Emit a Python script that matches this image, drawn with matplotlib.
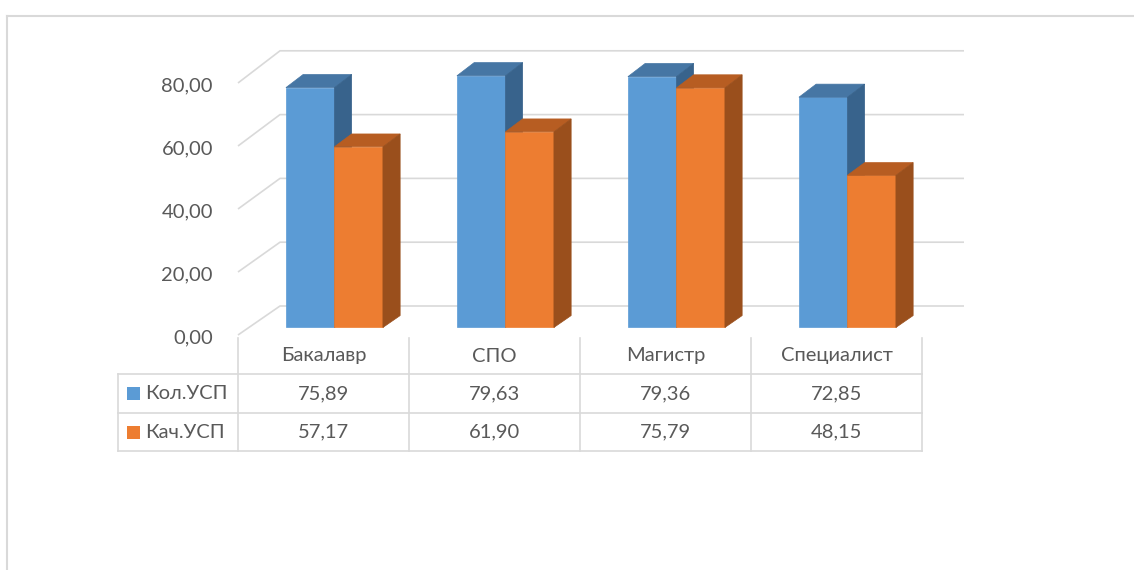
import numpy as np
import matplotlib
matplotlib.use("Agg")
import matplotlib.pyplot as plt
from matplotlib.patches import Polygon, Rectangle
import matplotlib.transforms as mtransforms

plt.rcParams['font.family'] = ['Lato', 'Open Sans', 'DejaVu Sans']

# data
categories = ['Бакалавр', 'СПО', 'Магистр', 'Специалист']
series_names = ['Кол.УСП', 'Кач.УСП']
kol_usp = [75.89, 79.63, 79.36, 72.85]
kach_usp = [57.17, 61.90, 75.79, 48.15]
y_ticks = [0, 20, 40, 60, 80]

# styles
front_colors = ['#5B9BD5', '#ED7D31']
top_colors = ['#4676A4', '#B75D22']
side_colors = ['#38638C', '#9A4F1C']
grid_color = '#D9D9D9'
text_color = '#595959'
fs = 14.5

W, H = 1134, 570
fig = plt.figure(figsize=(W / 100, H / 100), dpi=100)

# front plane of the 3d box: x in categories, y in values
px_left, px_right = 238, 922
px_zero, px_unit = 335, 3.15
ax = fig.add_axes([px_left / W, 1 - px_zero / H,
                   (px_right - px_left) / W, 80 * px_unit / H])
ax.set_xlim(-0.5, len(categories) - 0.5)
ax.set_ylim(0, 80)
ax.axis('off')

cat_px = (px_right - px_left) / len(categories)
DX = 42 / cat_px          # depth shift in category units
DY = 29 / px_unit         # depth shift in value units
PERSP = 0.0127            # back wall slightly larger


def proj(x, v, d):
    return x + d * DX, v * (1 + PERSP * d) + d * DY


# gridlines: back wall + left side
for v in y_ticks:
    x0, y0 = proj(-0.5, v, 0)
    x1, y1 = proj(-0.5, v, 1)
    x2, y2 = proj(len(categories) - 0.5, v, 1)
    ax.plot([x0, x1, x2], [y0, y1, y2], color=grid_color, lw=1.2,
            clip_on=False, zorder=1, solid_capstyle='butt')
    ax.annotate(f'{v:.2f}'.replace('.', ','), (x0, y0), xytext=(-25, -3),
                textcoords='offset pixels', ha='right', va='center',
                fontsize=fs, color=text_color, annotation_clip=False)

# bars
bar_w = 48.5 / cat_px
d_front, d_back = 0.26, 0.67
for i in range(len(categories)):
    for s, vals in enumerate([kol_usp, kach_usp]):
        xl = i - bar_w + s * bar_w
        xr = xl + bar_w
        v = vals[i]
        front = [proj(xl, 0, d_front), proj(xr, 0, d_front),
                 proj(xr, v, d_front), proj(xl, v, d_front)]
        top = [proj(xl, v, d_front), proj(xr, v, d_front),
               proj(xr, v, d_back), proj(xl, v, d_back)]
        side = [proj(xr, 0, d_front), proj(xr, 0, d_back),
                proj(xr, v, d_back), proj(xr, v, d_front)]
        for pts, c in [(front, front_colors[s]), (top, top_colors[s]),
                       (side, side_colors[s])]:
            ax.add_patch(Polygon(pts, closed=True, facecolor=c,
                                 edgecolor=c, lw=0.5, clip_on=False,
                                 zorder=3))

# data table
bt = mtransforms.blended_transform_factory(ax.transData, fig.transFigure)
row_px = [338, 374, 413, 451]
legend_left = 118


def fy(py):
    return 1 - py / H


for k in range(len(categories) + 1):
    ax.plot([k - 0.5, k - 0.5], [fy(row_px[0]), fy(row_px[-1])],
            transform=bt, color=grid_color, lw=1.2, clip_on=False)
for py in row_px[1:]:
    fig.add_artist(plt.Line2D([legend_left / W, px_right / W], [fy(py), fy(py)],
                              color=grid_color, lw=1.2))
fig.add_artist(plt.Line2D([legend_left / W, legend_left / W],
                          [fy(row_px[1]), fy(row_px[-1])],
                          color=grid_color, lw=1.2))

for i, cat in enumerate(categories):
    ax.text(i, fy(356), cat, transform=bt, ha='center', va='center',
            fontsize=fs, color=text_color)
    for r, vals in enumerate([kol_usp, kach_usp]):
        yc = (row_px[r + 1] + row_px[r + 2]) / 2
        ax.text(i, fy(yc), f'{vals[i]:.2f}'.replace('.', ','), transform=bt,
                ha='center', va='center', fontsize=fs, color=text_color)

for r, name in enumerate(series_names):
    yc = (row_px[r + 1] + row_px[r + 2]) / 2
    fig.add_artist(Rectangle((127 / W, fy(yc + 6.5)), 13 / W, 13 / H,
                             transform=fig.transFigure,
                             facecolor=front_colors[r], edgecolor='none'))
    fig.text(145 / W, fy(yc), name, ha='left', va='center',
             fontsize=fs, color=text_color)

# chart border
fig.add_artist(plt.Line2D([7 / W, 1], [fy(15.5), fy(15.5)],
                          color=grid_color, lw=1.5))
fig.add_artist(plt.Line2D([7 / W, 7 / W], [0, fy(15.5)],
                          color=grid_color, lw=1.5))

fig.savefig('out.png', dpi=100)
